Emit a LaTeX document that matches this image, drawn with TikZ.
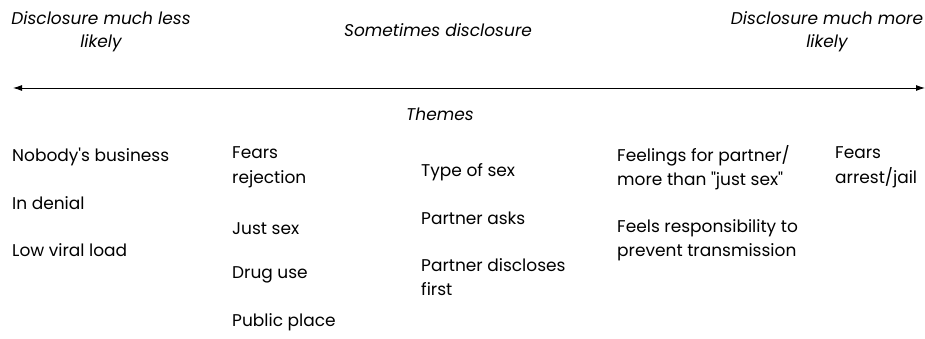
\documentclass[tikz,border=0pt]{standalone}
\usepackage{fontspec}
\setmainfont{Poppins}[Ligatures=TeXOff]
\usetikzlibrary{arrows.meta,positioning}

\begin{document}
\begin{tikzpicture}[x=1pt, y=1pt,
    every node/.style={inner sep=0pt, font=\fontsize{17}{24.5}\selectfont},
    theme/.style={anchor=west, align=left},
    scalelabel/.style={align=center, font=\fontsize{17}{23}\selectfont\itshape}]
  \useasboundingbox (0,0) rectangle (925,339);

  % the scale
  \node[scalelabel] (less) at (101,307.5) {Disclosure much less\\likely};
  \node[scalelabel] (sometimes) at (438,309) {Sometimes disclosure};
  \node[scalelabel] (more) at (827,307.5) {Disclosure much more\\likely};
  \coordinate (axisL) at (13,251);
  \coordinate (axisR) at (925,251);
  \draw[line width=0.9pt, {Latex[length=9pt,width=6pt]}-{Latex[length=9pt,width=6pt]}] (axisL) -- (axisR);
  \node[scalelabel] (themes) at (440,225) {Themes};

  % themes, less likely
  \node[theme] (nobody) at (12,182) {Nobody's business};
  \node[theme] (denial) at (12,136) {In denial};
  \node[theme] (viral) at (12,89) {Low viral load};

  \node[theme] (rejection) at (232,171.5) {Fears\\rejection};
  \node[theme] (justsex) at (232,110) {Just sex};
  \node[theme] (drugs) at (232,64) {Drug use};
  \node[theme] (public) at (232,17) {Public place};

  % themes, sometimes
  \node[theme] (typesex) at (421,167) {Type of sex};
  \node[theme] (asks) at (421,121) {Partner asks};
  \node[theme] (first) at (421,62) {Partner discloses\\first};

  % themes, more likely
  \node[theme] (feelings) at (617,171.5) {Feelings for partner/\\more than "just sex"};
  \node[theme] (prevent) at (617,99) {Feels responsibility to\\prevent transmission};
  \node[theme] (arrest) at (835,171.5) {Fears\\arrest/jail};

\end{tikzpicture}
\end{document}
